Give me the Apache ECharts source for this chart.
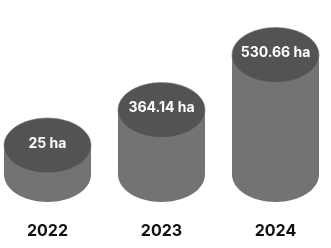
<!DOCTYPE html>
<html>
<head>
<meta charset="utf-8">
<script src="https://cdn.jsdelivr.net/npm/echarts@6/dist/echarts.min.js"></script>
<style>
html,body{margin:0;padding:0;background:#fff;}
#c{width:331px;height:248px;}
</style>
</head>
<body>
<div id="c"></div>
<script>
// Categories (years)
var categories = ['2022', '2023', '2024'];
// Area values shown on the labels (ha)
var areaValues = [25, 364.14, 530.66];
// Drawn cylinder heights (not to scale with the values)
var cylinderHeights = [29, 64.5, 119.5];
// Label texts
var valueLabels = ['25 ha', '364.14 ha', '530.66 ha'];

var chart = echarts.init(document.getElementById('c'), null, {renderer: 'canvas'});

var RX = 43.5, RY = 27.5;

function renderItem(params, api) {
  var idx = params.dataIndex;
  var base = api.coord([api.value(0), 0]);
  var top = api.coord([api.value(0), api.value(1)]);
  var cx = base[0];
  return {
    type: 'group',
    children: [
      {
        type: 'ellipse',
        shape: {cx: cx, cy: base[1], rx: RX, ry: RY},
        style: {fill: '#737373'}
      },
      {
        type: 'rect',
        shape: {x: cx - RX, y: top[1], width: RX * 2, height: base[1] - top[1]},
        style: {fill: '#737373'}
      },
      {
        type: 'ellipse',
        shape: {cx: cx, cy: top[1], rx: RX, ry: RY},
        style: {fill: '#535353', stroke: '#7c7c7c', lineWidth: 0.6}
      },
      {
        type: 'text',
        style: {
          text: valueLabels[idx],
          x: cx,
          y: top[1] - 2,
          fill: '#ffffff',
          font: 'bold 14px Inter, "Noto Sans", sans-serif',
          align: 'center',
          verticalAlign: 'middle'
        }
      }
    ]
  };
}

chart.setOption({
  animation: false,
  backgroundColor: '#ffffff',
  grid: {left: 47.5, right: 55.5, top: 24.5, bottom: 73.5},
  xAxis: {
    type: 'category',
    data: categories,
    boundaryGap: false,
    axisLine: {show: false},
    axisTick: {show: false},
    splitLine: {show: false},
    axisLabel: {
      margin: 57,
      color: '#111111',
      fontSize: 16,
      fontWeight: 'bold',
      fontFamily: 'Inter, "Noto Sans", sans-serif',
      verticalAlign: 'middle'
    }
  },
  yAxis: {
    type: 'value',
    min: 0,
    max: 150,
    show: false
  },
  series: [{
    type: 'custom',
    renderItem: renderItem,
    data: categories.map(function (c, i) { return [i, cylinderHeights[i], areaValues[i]]; }),
    clip: false
  }]
});
</script>
</body>
</html>
